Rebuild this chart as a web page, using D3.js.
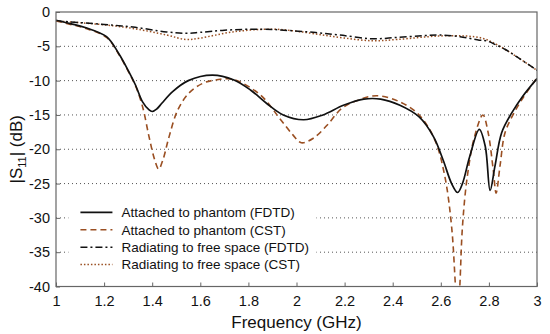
<!DOCTYPE html>
<html>
<head>
<meta charset="utf-8">
<script src="https://cdn.jsdelivr.net/npm/d3@7"></script>
<style>
  body { margin: 0; background: #fff; }
  text { font-family: "Liberation Sans", Arial, sans-serif; }
</style>
</head>
<body>
<div id="chart"></div>
<script>
const [width, height] = [550, 334];
const margin = {top: 12, right: 13, bottom: 47.5, left: 56};

// frequencies (GHz) and |S11| (dB) per curve
const freqAttFDTD = [1.0,1.06,1.125,1.21,1.26,1.30,1.33,1.36,1.385,1.40,1.42,1.44,1.485,1.55,1.65,1.74,1.81,1.875,1.945,2.03,2.11,2.195,2.28,2.35,2.43,2.51,2.57,2.61,2.645,2.67,2.69,2.72,2.76,2.785,2.805,2.825,2.853,2.895,2.94,3.0];
const s11AttFDTD  = [-1.2,-1.7,-2.3,-3.6,-6.0,-8.5,-10.6,-13.1,-14.2,-14.5,-14.1,-13.3,-11.6,-10.0,-9.2,-9.9,-11.4,-13.3,-15.0,-15.7,-15.0,-13.6,-12.7,-12.7,-13.6,-15.3,-18.2,-21.6,-25.0,-26.3,-25.0,-21.1,-17.1,-19.6,-26.0,-22.5,-17.6,-14.7,-12.3,-9.7];

const freqAttCST = [1.0,1.06,1.125,1.21,1.26,1.30,1.33,1.36,1.387,1.41,1.427,1.445,1.47,1.506,1.553,1.61,1.665,1.735,1.85,1.93,1.985,2.02,2.07,2.127,2.19,2.26,2.335,2.43,2.51,2.576,2.617,2.645,2.661,2.670,2.679,2.69,2.71,2.74,2.775,2.797,2.818,2.83,2.846,2.867,2.9,2.94,3.0];
const s11AttCST  = [-1.3,-1.8,-2.4,-3.7,-6.1,-8.6,-10.7,-13.8,-18.2,-21.5,-22.9,-21.5,-18.2,-14.3,-11.8,-10.4,-9.9,-9.8,-12.1,-15.5,-17.9,-19.05,-18.4,-16.5,-14.0,-12.8,-12.2,-13.1,-15.0,-18.7,-24.0,-31.3,-40,-45,-40,-31.3,-24.0,-18.2,-15.0,-17.6,-23.0,-26.4,-22.5,-17.6,-15.0,-12.6,-9.6];

const freqFreeFDTD = [1.0,1.18,1.32,1.46,1.54,1.6,1.7,1.86,1.97,2.08,2.177,2.317,2.42,2.525,2.59,2.68,2.76,2.79,2.83,2.87,2.915,3.0];
const s11FreeFDTD  = [-1.3,-1.75,-2.2,-2.9,-3.1,-2.96,-2.65,-2.5,-2.7,-3.0,-3.35,-3.9,-3.7,-3.45,-3.35,-3.6,-4.1,-4.2,-4.8,-5.5,-6.5,-8.5];

const freqFreeCST = [1.0,1.18,1.32,1.46,1.54,1.6,1.735,1.9,2.0,2.1,2.2,2.317,2.42,2.59,2.705,2.776,2.83,2.87,2.915,3.0];
const s11FreeCST  = [-1.3,-1.8,-2.4,-3.35,-4.0,-3.8,-2.9,-2.5,-2.8,-3.3,-3.8,-4.2,-4.0,-3.5,-3.5,-3.85,-4.7,-5.5,-6.5,-8.5];

const xTicks = [1, 1.2, 1.4, 1.6, 1.8, 2, 2.2, 2.4, 2.6, 2.8, 3];
const yTicks = [0, -5, -10, -15, -20, -25, -30, -35, -40];
const legendLabels = ["Attached to phantom (FDTD)", "Attached to phantom (CST)",
                      "Radiating to free space (FDTD)", "Radiating to free space (CST)"];

const w = width - margin.left - margin.right;
const h = height - margin.top - margin.bottom;

const svg = d3.select("#chart").append("svg")
    .attr("width", width).attr("height", height);
const g = svg.append("g").attr("transform", `translate(${margin.left},${margin.top})`);

const x = d3.scaleLinear().domain([1, 3]).range([0, w]);
const y = d3.scaleLinear().domain([-40, 0]).range([h, 0]);

// horizontal dotted grid
g.selectAll(".grid").data(yTicks.slice(1, -1)).enter().append("line")
    .attr("x1", 0).attr("x2", w)
    .attr("y1", d => y(d)).attr("y2", d => y(d))
    .attr("stroke", "#555").attr("stroke-width", 1)
    .attr("stroke-dasharray", "1,3");

g.append("defs").append("clipPath").attr("id", "clip")
  .append("rect").attr("width", w).attr("height", h);

const series = [
  {f: freqAttFDTD, v: s11AttFDTD, color: "#111", dash: null, sw: 1.7},
  {f: freqAttCST, v: s11AttCST, color: "#9a4f22", dash: "6,4", sw: 1.6},
  {f: freqFreeFDTD, v: s11FreeFDTD, color: "#111", dash: "7,3,2,3", sw: 1.5},
  {f: freqFreeCST, v: s11FreeCST, color: "#9a4f22", dash: "1.5,2", sw: 1.5}
];

const line = d3.line()
    .x(d => x(d[0])).y(d => y(d[1]))
    .curve(d3.curveCatmullRom.alpha(0.5));

const plot = g.append("g").attr("clip-path", "url(#clip)");
// draw CST curves beneath FDTD
[3, 2, 1, 0].forEach(i => {
  const s = series[i];
  plot.append("path")
      .datum(s.f.map((f, k) => [f, s.v[k]]))
      .attr("fill", "none")
      .attr("stroke", s.color)
      .attr("stroke-width", s.sw)
      .attr("stroke-dasharray", s.dash)
      .attr("d", line);
});

// axes
const xAxis = d3.axisBottom(x).tickValues(xTicks).tickSize(-4).tickFormat(d3.format("~g"));
const yAxis = d3.axisLeft(y).tickValues(yTicks).tickSize(-4).tickFormat(d3.format("~g"));

const gx = g.append("g").attr("transform", `translate(0,${h})`).call(xAxis);
const gy = g.append("g").call(yAxis);
[gx, gy].forEach(a => {
  a.select(".domain").remove();
  a.selectAll(".tick line").attr("stroke", "#666");
  a.selectAll(".tick text").attr("font-size", 14.5).attr("fill", "#111");
});
gx.selectAll(".tick text").attr("y", 9);
gy.selectAll(".tick text").attr("x", -6).text(d => d === 0 ? "0" : String(d).replace("\u2212", "-"));

// frame
g.append("rect").attr("width", w).attr("height", h)
    .attr("fill", "none").attr("stroke", "#666").attr("stroke-width", 1.2);

// axis labels
svg.append("text")
    .attr("x", margin.left + w / 2).attr("y", 328)
    .attr("text-anchor", "middle").attr("font-size", 17).attr("fill", "#111")
    .text("Frequency (GHz)");

const yl = svg.append("text")
    .attr("transform", `translate(22,${margin.top + h / 2}) rotate(-90)`)
    .attr("text-anchor", "middle").attr("font-size", 17).attr("fill", "#111");
yl.append("tspan").text("|S");
yl.append("tspan").attr("font-size", 11).attr("dy", 4).text("11");
yl.append("tspan").attr("dy", -4).text("| (dB)");

// legend
const lg = g.append("g").attr("transform", `translate(${x(1.06)},${y(-29.2)})`);
lg.append("rect").attr("x", -2).attr("y", -10).attr("width", 248).attr("height", 72)
    .attr("fill", "#fff");
legendLabels.forEach((lab, i) => {
  const s = series[i];
  const row = lg.append("g").attr("transform", `translate(0,${i * 17.4})`);
  row.append("line").attr("x1", 10).attr("x2", 42).attr("y1", 0).attr("y2", 0)
      .attr("stroke", s.color).attr("stroke-width", s.sw)
      .attr("stroke-dasharray", s.dash);
  row.append("text").attr("x", 51).attr("y", 0).attr("dy", "0.35em")
      .attr("font-size", 13.5).attr("fill", "#111").text(lab);
});
</script>
</body>
</html>
